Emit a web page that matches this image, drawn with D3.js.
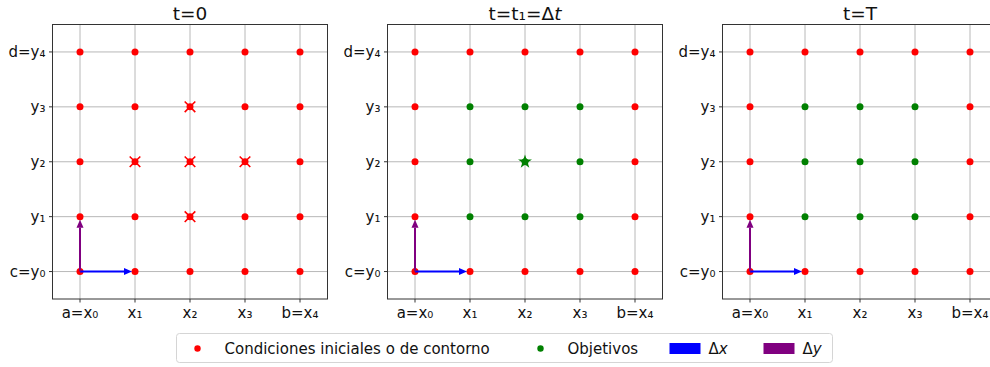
<!DOCTYPE html>
<html>
<head>
<meta charset="utf-8">
<script src="https://cdn.jsdelivr.net/npm/d3@7"></script>
<style>
  body { margin: 0; background: #fff; }
  svg { display: block; font-family: "DejaVu Sans", sans-serif; }
</style>
</head>
<body>
<div id="chart"></div>
<script>
var width = 990,
  height = 367;

// grid coordinates and tick labels
var gridX = [0, 1, 2, 3, 4];
var gridY = [0, 1, 2, 3, 4];
var xLabels = ["a=x₀", "x₁", "x₂", "x₃", "b=x₄"];
var yLabels = ["c=y₀", "y₁", "y₂", "y₃", "d=y₄"];

// point sets [x, y]
var boundaryPts = [[0,0],[1,0],[2,0],[3,0],[4,0],[0,4],[1,4],[2,4],[3,4],[4,4],
                   [0,1],[0,2],[0,3],[4,1],[4,2],[4,3]];
var interiorPts = [[1,1],[2,1],[3,1],[1,2],[2,2],[3,2],[1,3],[2,3],[3,3]];
var stencilPts = [[2,3],[1,2],[2,2],[3,2],[2,1]];
var targetPts = [[2,2]];

var panels = [
  {title: "t=0", red: boundaryPts.concat(interiorPts), green: [], cross: stencilPts, star: []},
  {title: "t=t₁=Δ", italic: "t", red: boundaryPts, green: interiorPts, cross: [], star: targetPts},
  {title: "t=T", red: boundaryPts, green: interiorPts, cross: [], star: []}
];

var panelLeft = [52.5, 387.5, 722.5],
  panelTop = 24.5,
  panelW = 275,
  panelH = 274.5;

var svg = d3.select("#chart").append("svg")
    .attr("width", width)
    .attr("height", height);

var x = d3.scaleLinear().domain([-0.5, 4.5]).range([0, panelW]),
    y = d3.scaleLinear().domain([-0.5, 4.5]).range([panelH, 0]);

var star = d3.symbol().type(d3.symbolStar).size(60);

function arrow(g, x1, y1, x2, y2, color) {
  var dx = x2 - x1, dy = y2 - y1, len = Math.sqrt(dx*dx + dy*dy);
  var ux = dx / len, uy = dy / len;
  var tipX = x2 - ux * 3, tipY = y2 - uy * 3;
  var baseX = tipX - ux * 8, baseY = tipY - uy * 8;
  g.append("line")
      .attr("x1", x1).attr("y1", y1)
      .attr("x2", baseX).attr("y2", baseY)
      .attr("stroke", color).attr("stroke-width", 2);
  g.append("path")
      .attr("d", "M" + tipX + "," + tipY +
        "L" + (baseX - uy * 3.5) + "," + (baseY + ux * 3.5) +
        "L" + (baseX + uy * 3.5) + "," + (baseY - ux * 3.5) + "Z")
      .attr("fill", color);
}

panels.forEach(function(p, i) {
  var g = svg.append("g")
      .attr("transform", "translate(" + panelLeft[i] + "," + panelTop + ")");

  g.append("defs").append("clipPath").attr("id", "clip" + i)
    .append("rect").attr("width", panelW).attr("height", panelH);

  // grid
  g.selectAll(".gx").data(gridX).enter().append("line")
      .attr("x1", function(d) { return x(d); })
      .attr("x2", function(d) { return x(d); })
      .attr("y1", 0).attr("y2", panelH)
      .attr("stroke", "#b0b0b0").attr("stroke-width", 0.9);
  g.selectAll(".gy").data(gridY).enter().append("line")
      .attr("y1", function(d) { return y(d); })
      .attr("y2", function(d) { return y(d); })
      .attr("x1", 0).attr("x2", panelW)
      .attr("stroke", "#b0b0b0").attr("stroke-width", 0.9);

  var plot = g.append("g").attr("clip-path", "url(#clip" + i + ")");

  plot.selectAll(".red").data(p.red).enter().append("circle")
      .attr("cx", function(d) { return x(d[0]); })
      .attr("cy", function(d) { return y(d[1]); })
      .attr("r", 3.5)
      .attr("fill", "#ff0000");

  plot.selectAll(".green").data(p.green).enter().append("circle")
      .attr("cx", function(d) { return x(d[0]); })
      .attr("cy", function(d) { return y(d[1]); })
      .attr("r", 3.5)
      .attr("fill", "#008000");

  plot.selectAll(".cross").data(p.cross).enter().append("path")
      .attr("d", function(d) {
        var cx = x(d[0]), cy = y(d[1]), s = 5.3;
        return "M" + (cx - s) + "," + (cy - s) + "L" + (cx + s) + "," + (cy + s) +
               "M" + (cx - s) + "," + (cy + s) + "L" + (cx + s) + "," + (cy - s);
      })
      .attr("stroke", "#ff0000").attr("stroke-width", 1.6);

  plot.selectAll(".star").data(p.star).enter().append("path")
      .attr("transform", function(d) { return "translate(" + x(d[0]) + "," + y(d[1]) + ")"; })
      .attr("d", star)
      .attr("fill", "#008000");

  // increments
  arrow(plot, x(gridX[0]), y(gridY[0]), x(gridX[1]), y(gridY[0]), "#0000ff");
  arrow(plot, x(gridX[0]), y(gridY[0]), x(gridX[0]), y(gridY[1]), "#800080");

  // frame
  g.append("rect")
      .attr("width", panelW).attr("height", panelH)
      .attr("fill", "none").attr("stroke", "#333").attr("stroke-width", 1);

  // ticks
  g.selectAll(".tx").data(gridX).enter().append("line")
      .attr("x1", function(d) { return x(d); })
      .attr("x2", function(d) { return x(d); })
      .attr("y1", panelH).attr("y2", panelH + 3.5)
      .attr("stroke", "#333");
  g.selectAll(".ty").data(gridY).enter().append("line")
      .attr("y1", function(d) { return y(d); })
      .attr("y2", function(d) { return y(d); })
      .attr("x1", 0).attr("x2", -3.5)
      .attr("stroke", "#333");

  g.selectAll(".lx").data(gridX).enter().append("text")
      .attr("x", function(d) { return x(d); })
      .attr("y", panelH + 19)
      .attr("text-anchor", "middle")
      .attr("font-size", 15)
      .attr("fill", "#111")
      .text(function(d, j) { return xLabels[j]; });
  g.selectAll(".ly").data(gridY).enter().append("text")
      .attr("x", -7)
      .attr("y", function(d) { return y(d); })
      .attr("dy", "0.33em")
      .attr("text-anchor", "end")
      .attr("font-size", 15)
      .attr("fill", "#111")
      .text(function(d, j) { return yLabels[j]; });

  var title = g.append("text")
      .attr("x", panelW / 2)
      .attr("y", -5)
      .attr("text-anchor", "middle")
      .attr("font-size", 18.5)
      .attr("fill", "#111")
      .text(p.title);
  if (p.italic) title.append("tspan").attr("font-style", "italic").text(p.italic);
});

// legend
var legend = svg.append("g").attr("transform", "translate(176.5,333.5)");
legend.append("rect")
    .attr("width", 656).attr("height", 29).attr("rx", 3)
    .attr("fill", "#fff").attr("stroke", "#d5d5d5");

var legendItems = [
  {type: "dot", color: "#ff0000", x: 21, label: "Condiciones iniciales o de contorno"},
  {type: "dot", color: "#008000", x: 364, label: "Objetivos"},
  {type: "patch", color: "#0000ff", x: 494, label: "Δ", it: "x"},
  {type: "patch", color: "#800080", x: 588, label: "Δ", it: "y"}
];
legendItems.forEach(function(d) {
  if (d.type === "dot") {
    legend.append("circle").attr("cx", d.x).attr("cy", 15).attr("r", 3.2).attr("fill", d.color);
    legend.append("text").attr("x", d.x + 27).attr("y", 20)
        .attr("font-size", 15).attr("fill", "#111").text(d.label);
  } else {
    legend.append("rect").attr("x", d.x - 1).attr("y", 9.5).attr("width", 31).attr("height", 11)
        .attr("fill", d.color);
    var t = legend.append("text").attr("x", d.x + 38).attr("y", 20)
        .attr("font-size", 15).attr("fill", "#111").text(d.label);
    t.append("tspan").attr("font-style", "italic").text(d.it);
  }
});
</script>
</body>
</html>
